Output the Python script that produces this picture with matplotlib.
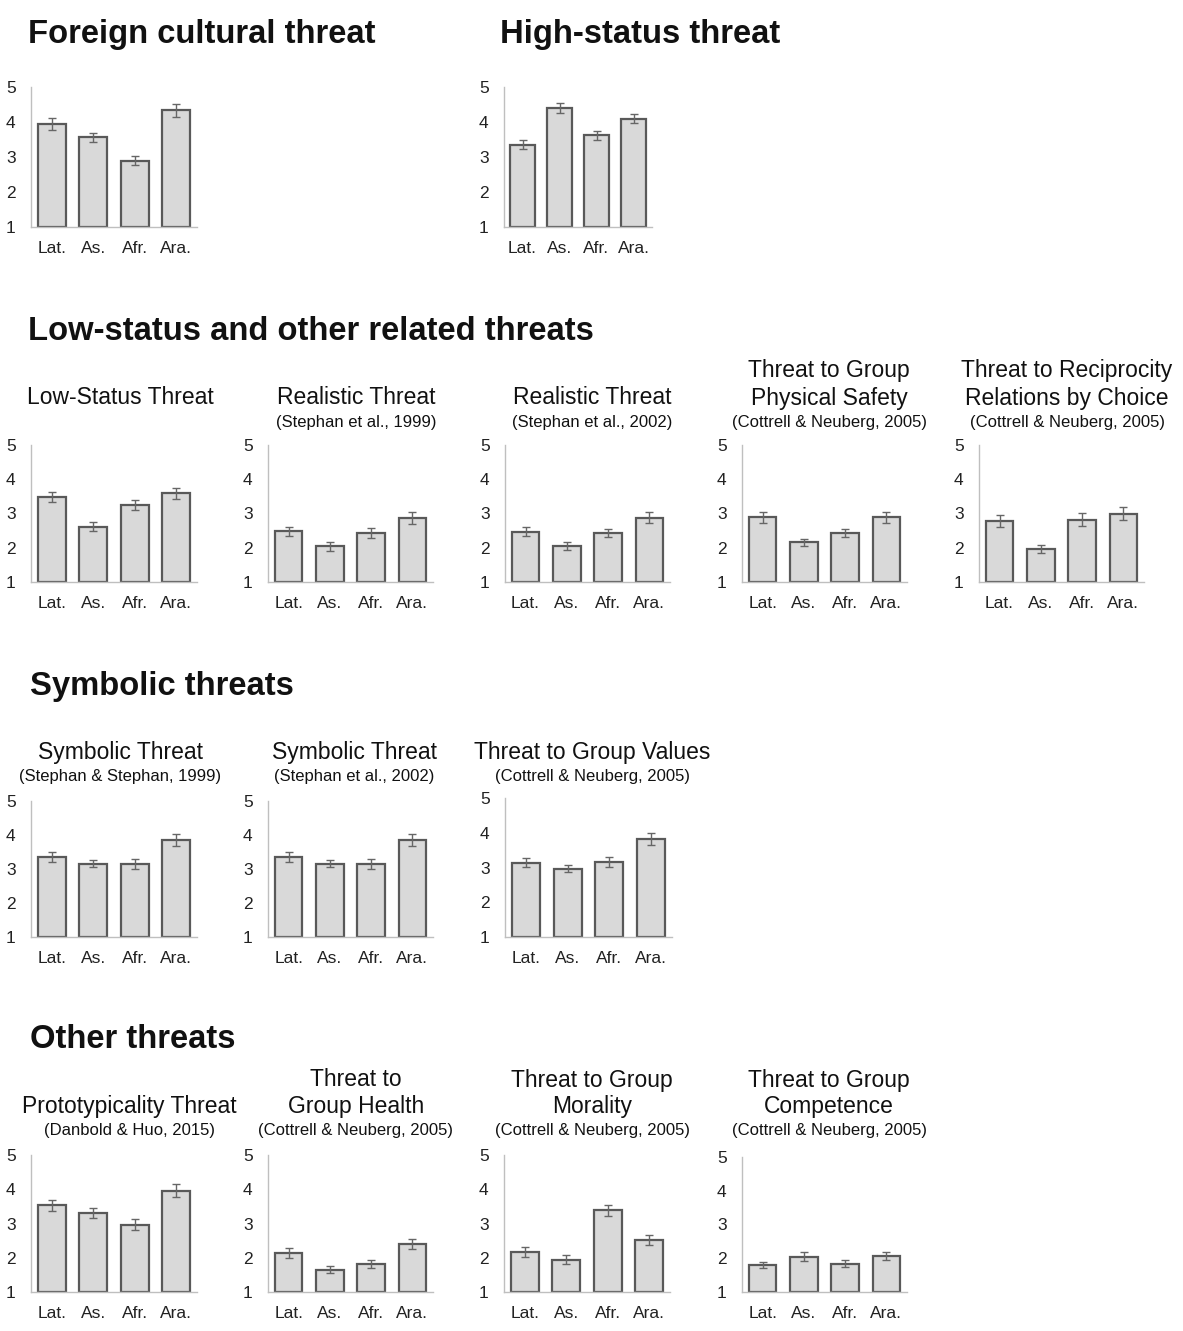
import numpy as np
import matplotlib
matplotlib.use("Agg")
import matplotlib.pyplot as plt

plt.rcParams['font.family'] = ['Liberation Sans', 'DejaVu Sans']

groups = ['Lat.', 'As.', 'Afr.', 'Ara.']

# means and error half-widths (scale 1-5)
foreign_mean = [3.95, 3.56, 2.90, 4.33]
foreign_err = [0.17, 0.14, 0.13, 0.18]
high_mean = [3.35, 4.39, 3.62, 4.10]
high_err = [0.13, 0.14, 0.12, 0.14]

low_mean = [3.48, 2.62, 3.24, 3.59]
low_err = [0.15, 0.12, 0.15, 0.16]
real99_mean = [2.48, 2.04, 2.43, 2.87]
real99_err = [0.13, 0.13, 0.14, 0.17]
real02_mean = [2.47, 2.05, 2.43, 2.87]
real02_err = [0.13, 0.12, 0.13, 0.16]
safety_mean = [2.89, 2.16, 2.42, 2.89]
safety_err = [0.16, 0.10, 0.12, 0.16]
recip_mean = [2.79, 1.97, 2.82, 2.99]
recip_err = [0.18, 0.12, 0.18, 0.19]

symb99_mean = [3.35, 3.16, 3.14, 3.86]
symb99_err = [0.14, 0.10, 0.15, 0.17]
symb02_mean = [3.35, 3.16, 3.14, 3.86]
symb02_err = [0.14, 0.10, 0.15, 0.17]
values_mean = [3.14, 2.96, 3.16, 3.82]
values_err = [0.13, 0.10, 0.15, 0.16]

proto_mean = [3.53, 3.31, 2.97, 3.95]
proto_err = [0.17, 0.15, 0.15, 0.19]
health_mean = [2.14, 1.65, 1.82, 2.40]
health_err = [0.15, 0.10, 0.12, 0.15]
moral_mean = [2.17, 1.94, 3.39, 2.52]
moral_err = [0.14, 0.13, 0.16, 0.15]
compet_mean = [1.80, 2.05, 1.84, 2.07]
compet_err = [0.10, 0.13, 0.11, 0.13]

W, H = 1183, 1331
fig = plt.figure(figsize=(W / 100, H / 100), dpi=100)


def fx(x):
    return x / W


def fy(y):
    return 1 - y / H


def add_panel(x0, x1, ytop, ybot, means, errs):
    ax = fig.add_axes([fx(x0), fy(ybot), (x1 - x0) / W, (ybot - ytop) / H])
    pos = np.arange(len(groups))
    means = np.array(means)
    ax.bar(pos, means - 1, bottom=1, width=0.67, color='#d9d9d9',
           edgecolor='#595959', linewidth=1.6, zorder=2)
    ax.errorbar(pos, means, yerr=errs, fmt='none', ecolor='#666666',
                elinewidth=1.0, capsize=3, capthick=1.0, zorder=3)
    ax.set_xlim(-0.5, 3.5)
    ax.set_ylim(1, 5)
    ax.set_yticks([1, 2, 3, 4, 5])
    ax.set_xticks(pos)
    ax.set_xticklabels(groups)
    for s in ['top', 'right']:
        ax.spines[s].set_visible(False)
    for s in ['left', 'bottom']:
        ax.spines[s].set_color('#bfbfbf')
        ax.spines[s].set_linewidth(1.0)
    ax.tick_params(axis='y', length=0, pad=11, labelsize=12.5, labelcolor='#222222')
    ax.tick_params(axis='x', length=0, pad=10, labelsize=12.5, labelcolor='#222222')
    ax.set_facecolor('none')
    return ax


def header(x, y, s):
    fig.text(fx(x), fy(y + 2), s, fontsize=23.6, fontweight='bold',
             ha='left', va='center', color='#111111')


def title(x, y, lines, sub):
    for i, ln in enumerate(lines):
        yy = y - 27 * (len(lines) - 1 - i)
        fig.text(fx(x), fy(yy), ln, fontsize=16.5, ha='center', va='center',
                 color='#111111')
    fig.text(fx(x), fy(y + 24), sub, fontsize=12, ha='center', va='center',
             color='#111111')


# Row 1
header(28, 33, 'Foreign cultural threat')
header(500, 33, 'High-status threat')
add_panel(31, 197, 87, 227, foreign_mean, foreign_err)
add_panel(504, 652, 87, 227, high_mean, high_err)

# Row 2
header(28, 330, 'Low-status and other related threats')
fig.text(fx(120), fy(398), 'Low-Status Threat', fontsize=16.5, ha='center',
         va='center', color='#111111')
title(356, 398, ['Realistic Threat'], '(Stephan et al., 1999)')
title(592, 398, ['Realistic Threat'], '(Stephan et al., 2002)')
title(829, 398, ['Threat to Group', 'Physical Safety'], '(Cottrell & Neuberg, 2005)')
title(1067, 398, ['Threat to Reciprocity', 'Relations by Choice'], '(Cottrell & Neuberg, 2005)')
add_panel(31, 197, 445, 582, low_mean, low_err)
add_panel(268, 433, 445, 582, real99_mean, real99_err)
add_panel(505, 670, 445, 582, real02_mean, real02_err)
add_panel(742, 907, 445, 582, safety_mean, safety_err)
add_panel(979, 1144, 445, 582, recip_mean, recip_err)

# Row 3
header(30, 684, 'Symbolic threats')
title(120, 753, ['Symbolic Threat'], '(Stephan & Stephan, 1999)')
title(354, 753, ['Symbolic Threat'], '(Stephan et al., 2002)')
title(592, 753, ['Threat to Group Values'], '(Cottrell & Neuberg, 2005)')
add_panel(31, 197, 801, 937, symb99_mean, symb99_err)
add_panel(268, 433, 801, 937, symb02_mean, symb02_err)
add_panel(505, 672, 798, 937, values_mean, values_err)

# Row 4
header(30, 1038, 'Other threats')
title(129, 1107, ['Prototypicality Threat'], '(Danbold & Huo, 2015)')
title(356, 1107, ['Threat to', 'Group Health'], '(Cottrell & Neuberg, 2005)')
title(592, 1107, ['Threat to Group', 'Morality'], '(Cottrell & Neuberg, 2005)')
title(829, 1107, ['Threat to Group', 'Competence'], '(Cottrell & Neuberg, 2005)')
add_panel(31, 197, 1155, 1292, proto_mean, proto_err)
add_panel(268, 433, 1155, 1292, health_mean, health_err)
add_panel(504, 670, 1155, 1292, moral_mean, moral_err)
add_panel(742, 907, 1157, 1292, compet_mean, compet_err)

fig.savefig('out.png', dpi=100, facecolor='white')
